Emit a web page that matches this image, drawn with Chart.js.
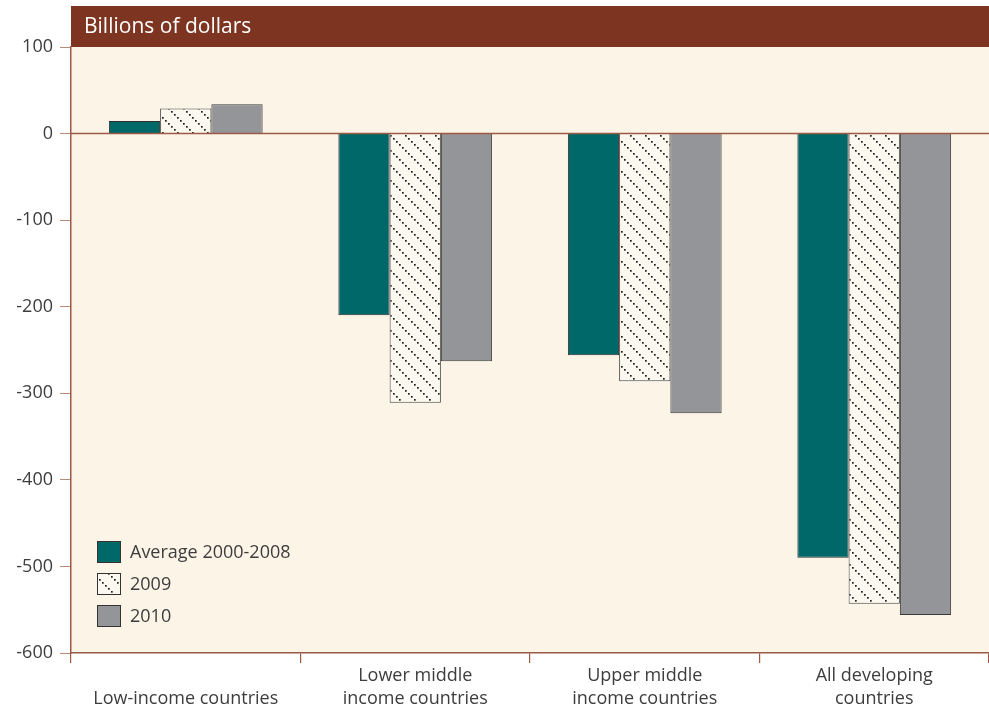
<!DOCTYPE html>
<html>
<head>
<meta charset="utf-8">
<script src="https://cdn.jsdelivr.net/npm/chart.js@4"></script>
<style>
  html, body { margin: 0; padding: 0; background: #fff; }
  #wrap { width: 989px; height: 711px; position: relative; }
</style>
</head>
<body>
<div id="wrap"><canvas id="chart"></canvas></div>
<script>
// --- data ---
const categories = [['', 'Low-income countries'], ['Lower middle', 'income countries'], ['Upper middle', 'income countries'], ['All developing', 'countries']];
const seriesNames = ['Average 2000-2008', '2009', '2010'];
const avgValues = [14.5, -210, -256, -490];
const y2009Values = [29, -311, -286, -543];
const y2010Values = [34, -263, -323, -556];
const yTicks = [100, 0, -100, -200, -300, -400, -500, -600];

const FONT = '"Open Sans", "Noto Sans", sans-serif';
const BROWN = '#7d3521';
const AXIS = '#9a5a44';

// dotted diagonal hatch for 2009
function makeHatch() {
    const c = document.createElement('canvas');
    c.width = 15; c.height = 15;
    const g = c.getContext('2d');
    g.fillStyle = '#fbf8ef';
    g.fillRect(0, 0, 15, 15);
    g.fillStyle = '#1e1e1e';
    for (let i = 0; i < 15; i += 3) g.fillRect(i, i, 1.7, 1.7);
    return g.createPattern(c, 'repeat');
}
const hatch = makeHatch();

// background, title band, zero line and legend
const decor = {
    id: 'decor',
    beforeDraw(chart) {
        const { ctx, chartArea: a } = chart;
        ctx.save();
        ctx.fillStyle = '#fcf4e7';
        ctx.fillRect(a.left, a.top, a.right - a.left, a.bottom - a.top);
        ctx.fillStyle = BROWN;
        ctx.fillRect(a.left, 6, a.right - a.left, a.top - 6);
        ctx.fillStyle = '#fff';
        ctx.font = '21px ' + FONT;
        ctx.textBaseline = 'middle';
        ctx.fillText('Billions of dollars', a.left + 13, 27);
        ctx.restore();
    },
    afterDatasetsDraw(chart) {
        const { ctx, chartArea: a } = chart;
        const y0 = chart.scales.y.getPixelForValue(0);
        ctx.save();
        ctx.strokeStyle = AXIS;
        ctx.lineWidth = 1.5;
        ctx.beginPath();
        ctx.moveTo(a.left, y0); ctx.lineTo(a.right, y0);
        ctx.stroke();
        // legend
        ctx.font = '18px ' + FONT;
        ctx.textBaseline = 'middle';
        chart.data.datasets.forEach((ds, i) => {
            const y = 541 + i * 32;
            ctx.fillStyle = ds.backgroundColor;
            ctx.fillRect(97, y, 24, 22);
            ctx.strokeStyle = '#333';
            ctx.lineWidth = 1;
            ctx.strokeRect(97.5, y + 0.5, 23, 21);
            ctx.fillStyle = '#3d3d3d';
            ctx.fillText(ds.label, 130, y + 12);
        });
        ctx.restore();
    }
};

new Chart(document.getElementById('chart'), {
    type: 'bar',
    data: {
        labels: categories,
        datasets: [
            { label: seriesNames[0], data: avgValues, backgroundColor: '#006868', borderColor: '#2e2e2e', borderWidth: 1 },
            { label: seriesNames[1], data: y2009Values, backgroundColor: hatch, borderColor: '#444', borderWidth: 1 },
            { label: seriesNames[2], data: y2010Values, backgroundColor: '#939598', borderColor: '#3a3a3a', borderWidth: 1 }
        ]
    },
    options: {
        responsive: true,
        maintainAspectRatio: false,
        animation: false,
        layout: { padding: { top: 47, right: 0, left: 0, bottom: 0 } },
        datasets: { bar: { categoryPercentage: 0.67, barPercentage: 1, borderSkipped: 'start' } },
        plugins: { legend: { display: false }, tooltip: { enabled: false } },
        scales: {
            x: {
                grid: { offset: true, drawOnChartArea: false, color: AXIS, tickLength: 10, lineWidth: 1.2 },
                border: { color: AXIS, width: 1.5 },
                ticks: { font: { family: FONT, size: 18, lineHeight: 1.25 }, color: '#3d3d3d', padding: 2, maxRotation: 0, autoSkip: false },
                afterFit(s) { s.height = 58; }
            },
            y: {
                min: -600, max: 100,
                afterBuildTicks(s) { s.ticks = yTicks.map(v => ({ value: v })); },
                grid: { drawOnChartArea: false, tickColor: '#b58a7a', tickLength: 11 },
                border: { color: AXIS, width: 1.5 },
                ticks: { font: { family: FONT, size: 18 }, color: '#3d3d3d', padding: 7 },
                afterFit(s) { s.width = 71; }
            }
        }
    },
    plugins: [decor]
});
</script>
</body>
</html>
